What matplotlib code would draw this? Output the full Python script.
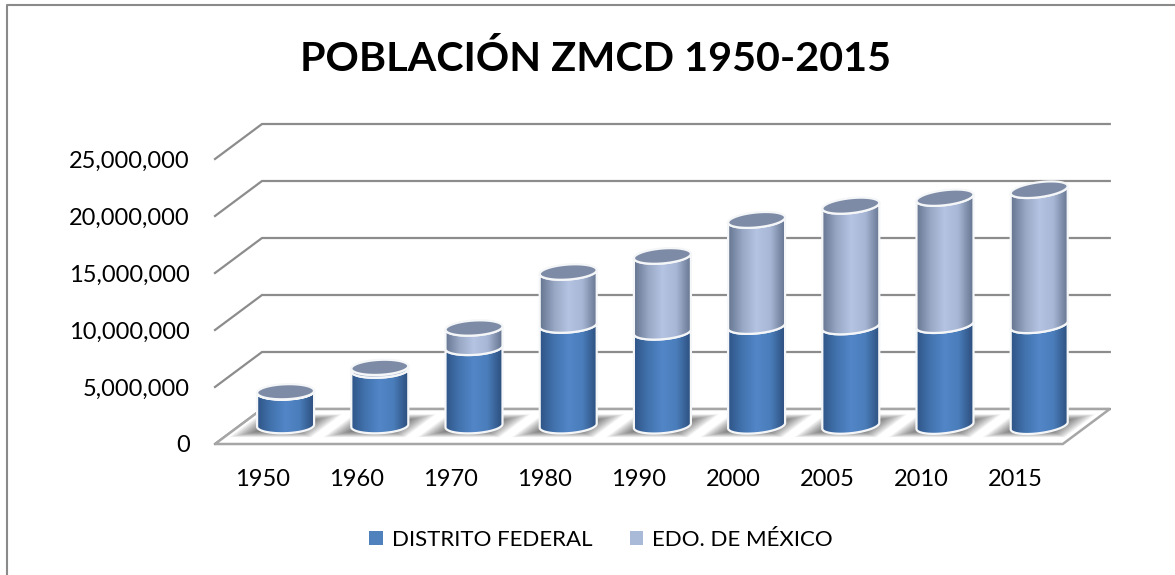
import numpy as np
from matplotlib import pyplot as plt
from matplotlib.colors import LinearSegmentedColormap
from matplotlib.lines import Line2D
from matplotlib.patches import Patch, Polygon
from matplotlib.ticker import FuncFormatter

years = ['1950', '1960', '1970', '1980', '1990', '2000', '2005', '2010', '2015']
distrito = [2950000, 4870000, 6870000, 8830000, 8240000, 8750000, 8720000, 8850000, 8850000]
edomex = [30000, 250000, 1700000, 4650000, 6650000, 9300000, 10580000, 11150000, 11850000]
y_ticks = [0, 5000000, 10000000, 15000000, 20000000, 25000000]

title = 'POBLACIÓN ZMCD 1950-2015'
series_names = ['DISTRITO FEDERAL', 'EDO. DE MÉXICO']

W, H = 1175, 575
CAT_PX = 94.2
VAL_PX = 57 / 5000000
DEPTH_X = 47 / CAT_PX
DEPTH_Y = 35 / VAL_PX
HALF_W = 28.5 / CAT_PX
ELL_H = 7.5 / VAL_PX
GRID = '#8c8c8c'

plt.rcParams['font.family'] = ['Lato', 'DejaVu Sans']

blues = LinearSegmentedColormap.from_list('blues', ['#2f5587', '#4273ae', '#5286c8', '#4a7dba', '#2d4f7e'])
greys = LinearSegmentedColormap.from_list('greys', ['#667590', '#97a7c4', '#b4c4e2', '#a6b6d4', '#667590'])
gradient = np.linspace(0, 1, 128)[None, :]


def arc(cx, cy, tilt, start, stop):
    t = np.linspace(start, stop, 50)
    return np.column_stack([cx + HALF_W * np.cos(t), cy + ELL_H * np.sin(t) + tilt * np.cos(t)])


def cylinder_part(ax, cx, low, high, tilt, cmap, z):
    pts = np.vstack([arc(cx, low, tilt, np.pi, 2 * np.pi), arc(cx, high, tilt, 2 * np.pi, np.pi)])
    body = Polygon(pts, closed=True, facecolor='none', edgecolor='#f4f6f8', lw=1.6, zorder=z + 0.1)
    ax.add_patch(body)
    im = ax.imshow(gradient, cmap=cmap, aspect='auto', zorder=z,
                   extent=[cx - HALF_W, cx + HALF_W, low - 2 * ELL_H, high + 2 * ELL_H])
    im.set_clip_path(body)


def shadow(ax, cx, cy):
    # blurred skewed patch under each cylinder, built from stacked layers
    for s in np.linspace(1.0, 0.45, 18):
        hw, hh = 41 / CAT_PX * s, 11.5 / VAL_PX * s
        skew = DEPTH_X * hh / DEPTH_Y
        pts = [(cx - hw - skew, cy - hh), (cx + hw - skew, cy - hh), (cx + hw + skew, cy + hh), (cx - hw + skew, cy + hh)]
        ax.add_patch(Polygon(pts, closed=True, facecolor='black', edgecolor='none', alpha=0.04, zorder=3))


fig = plt.figure(figsize=(W / 100, H / 100), dpi=100, facecolor='white')
ax = fig.add_axes([215 / W, (H - 444) / H, (1109 - 215) / W, 320 / H])

# walls and floor
for v in y_ticks:
    ax.plot([-0.5, -0.5 + DEPTH_X, 8.5 + DEPTH_X], [v, v + DEPTH_Y, v + DEPTH_Y], color=GRID, lw=1.6, zorder=1,
            clip_on=False, solid_joinstyle='miter')
ax.add_patch(Polygon([(-0.5, 0), (8.5, 0), (8.5 + DEPTH_X, DEPTH_Y), (-0.5 + DEPTH_X, DEPTH_Y)], closed=True,
                     facecolor='white', edgecolor='#a6a6a6', lw=1.8, zorder=2, clip_on=False))

for i in range(len(years)):
    cx = i + DEPTH_X / 2
    base = DEPTH_Y / 2 + 0.8 / VAL_PX
    tilt = (1 + i * 0.32) / VAL_PX
    shadow(ax, cx, base)
    mid = base + distrito[i]
    top = mid + edomex[i]
    z = 4 + i
    cylinder_part(ax, cx, base, mid, tilt, blues, z)
    cylinder_part(ax, cx, mid, top, tilt, greys, z + 0.2)
    ax.add_patch(Polygon(arc(cx, top, tilt, 0, 2 * np.pi), closed=True, facecolor='#7d8ba6', edgecolor='#f4f6f8',
                         lw=1.6, zorder=z + 0.5))

ax.set_xlim(-0.5, -0.5 + (1109 - 215) / CAT_PX)
ax.set_ylim(0, 320 / VAL_PX)
ax.set_xticks(range(len(years)), years)
ax.set_yticks(y_ticks)
ax.yaxis.set_major_formatter(FuncFormatter(lambda v, pos: f'{int(v):,}'))
ax.tick_params(length=0, labelsize=17, labelcolor='black')
ax.tick_params(axis='x', pad=18)
ax.tick_params(axis='y', pad=18)
ax.patch.set_visible(False)
for spine in ax.spines.values():
    spine.set_visible(False)

fig.text(596 / W, 1 - 59 / H, title, ha='center', va='center', fontsize=29.7, fontweight='bold', color='black')

handles = [Patch(facecolor='#4f81bd', label=series_names[0]), Patch(facecolor='#a9b9d8', label=series_names[1])]
fig.legend(handles=handles, ncol=2, frameon=False, fontsize=16, loc='center', bbox_to_anchor=(601 / W, 1 - 540 / H),
           handlelength=0.6, handleheight=0.6, handletextpad=0.4, columnspacing=1.7, labelcolor='black')

# chart border, cut off by the crop on the right and bottom
fig.add_artist(Line2D([6.5 / W, 6.5 / W, 1], [0, 1 - 4.5 / H, 1 - 4.5 / H], color='#8a8a8a', lw=1.5,
                      transform=fig.transFigure))

fig.savefig('out.png', dpi=100)
